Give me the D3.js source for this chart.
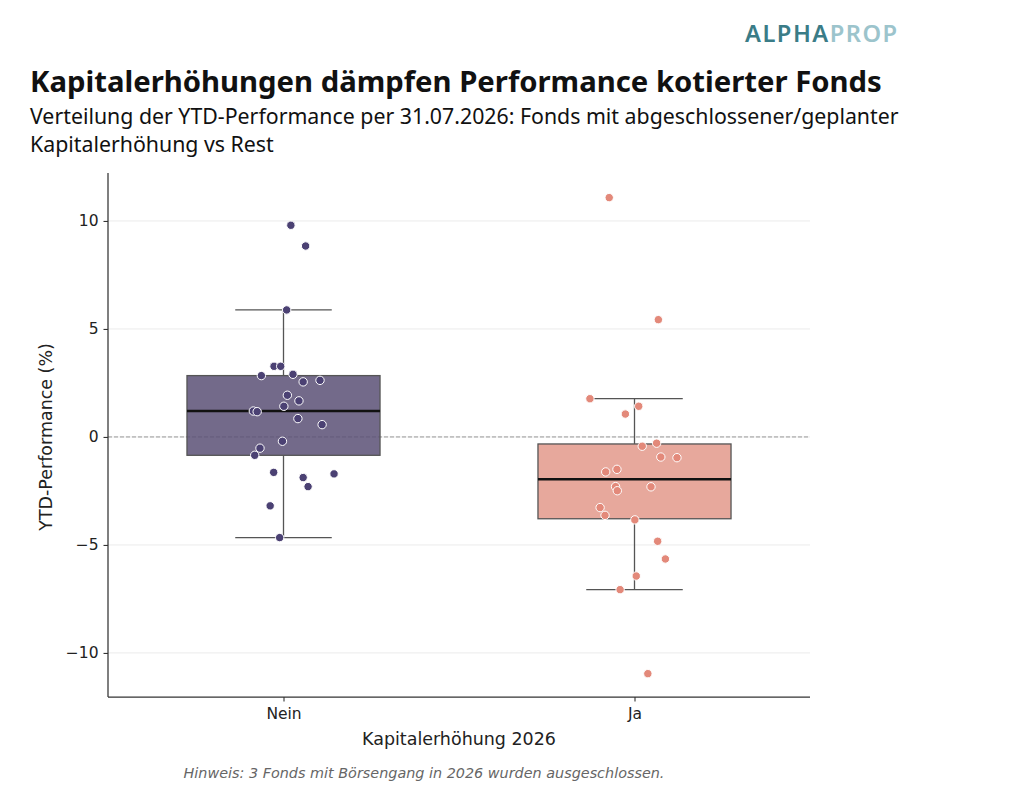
<!DOCTYPE html>
<html>
<head>
<meta charset="utf-8">
<script src="https://cdn.jsdelivr.net/npm/d3@7"></script>
<style>
  body { margin: 0; background: #fff; }
  svg { display: block; }
</style>
</head>
<body>
<div id="chart"></div>
<script>
// categories and values
const categories = ["Nein", "Ja"]

const neinValues = [9.80, 8.84, 5.88, 3.27, 3.27, 2.84, 2.90, 2.55, 2.62, 1.93, 1.67, 1.42, 1.20,
                    1.17, 0.85, 0.57, -0.20, -0.52, -0.85, -1.64, -1.88, -1.71, -2.30, -3.19, -4.66]
// horizontal jitter of each point, in category widths
const neinJitter = [0.021, 0.063, 0.009, -0.027, -0.008, -0.063, 0.027, 0.056, 0.104, 0.011, 0.044, 0.001, -0.086,
                    -0.075, 0.041, 0.110, -0.003, -0.067, -0.082, -0.028, 0.056, 0.144, 0.070, -0.038, -0.011]

const jaValues = [11.08, 5.43, 1.77, 1.42, 1.06, -0.43, -0.29, -0.93, -0.96, -1.62, -1.50, -2.30, -2.49,
                  -2.31, -3.27, -3.63, -3.84, -4.83, -5.65, -6.44, -7.07, -10.96]
const jaJitter = [-0.072, 0.068, -0.127, 0.012, -0.026, 0.022, 0.063, 0.075, 0.121, -0.082, -0.050, -0.054, -0.049,
                  0.047, -0.098, -0.084, 0.001, 0.066, 0.088, 0.005, -0.041, 0.038]

const yTicks = [-10, -5, 0, 5, 10]

const W = 1024, H = 794
const margin = {top: 173, right: 214, bottom: 97, left: 108}

const svg = d3.select("#chart")
  .append("svg")
    .attr("width", W)
    .attr("height", H)

const x = d3.scalePoint()
  .domain(categories)
  .range([margin.left, W - margin.right])
  .padding(0.5)

const y = d3.scaleLinear()
  .domain([-12.04, 12.22])
  .range([H - margin.bottom, margin.top])

const groups = [
  {name: "Nein", values: neinValues, jitter: neinJitter, box: "#5a5076", dot: "#4b4173"},
  {name: "Ja", values: jaValues, jitter: jaJitter, box: "#e3998b", dot: "#e3897a"}
]

//Box statistics (linear quantiles, whiskers at 1.5 IQR)
for (let g of groups) {
  let s = g.values.slice().sort(d3.ascending)
  g.q1 = d3.quantileSorted(s, 0.25)
  g.med = d3.quantileSorted(s, 0.5)
  g.q3 = d3.quantileSorted(s, 0.75)
  let iqr = g.q3 - g.q1
  g.lo = d3.min(s.filter(v => v >= g.q1 - 1.5 * iqr))
  g.hi = d3.max(s.filter(v => v <= g.q3 + 1.5 * iqr))
}

const step = x.step()
const boxW = step * 0.55

//Scale a text's font size so it spans the given width
function fitWidth(sel, target) {
  let size = parseFloat(sel.style("font-size"))
  let len = sel.node().getComputedTextLength()
  sel.style("font-size", (size * target / len).toFixed(2) + "px")
}

// Gridlines
svg.append("g")
  .selectAll("line")
  .data(yTicks)
  .enter().append("line")
    .attr("x1", margin.left)
    .attr("x2", W - margin.right)
    .attr("y1", d => y(d))
    .attr("y2", d => y(d))
    .style("stroke", "#ebebeb")
    .style("stroke-width", 1)

// Zero line
svg.append("line")
  .attr("x1", margin.left)
  .attr("x2", W - margin.right)
  .attr("y1", y(0))
  .attr("y2", y(0))
  .style("stroke", "#999")
  .style("stroke-width", 1)
  .style("stroke-dasharray", "4,2")

// Boxes
const boxes = svg.append("g")
  .selectAll("g")
  .data(groups)
  .enter().append("g")

boxes.append("line")
  .attr("x1", d => x(d.name)).attr("x2", d => x(d.name))
  .attr("y1", d => y(d.hi)).attr("y2", d => y(d.q3))
  .style("stroke", "#555").style("stroke-width", 1.3)
boxes.append("line")
  .attr("x1", d => x(d.name)).attr("x2", d => x(d.name))
  .attr("y1", d => y(d.q1)).attr("y2", d => y(d.lo))
  .style("stroke", "#555").style("stroke-width", 1.3)

for (let k of ["hi", "lo"]) {
  boxes.append("line")
    .attr("x1", d => x(d.name) - boxW / 4).attr("x2", d => x(d.name) + boxW / 4)
    .attr("y1", d => y(d[k])).attr("y2", d => y(d[k]))
    .style("stroke", "#555").style("stroke-width", 1.3)
}

boxes.append("rect")
  .attr("x", d => x(d.name) - boxW / 2)
  .attr("width", boxW)
  .attr("y", d => y(d.q3))
  .attr("height", d => y(d.q1) - y(d.q3))
  .attr("fill", d => d.box)
  .attr("fill-opacity", 0.85)
  .style("stroke", "#555")
  .style("stroke-width", 1.3)

boxes.append("line")
  .attr("x1", d => x(d.name) - boxW / 2).attr("x2", d => x(d.name) + boxW / 2)
  .attr("y1", d => y(d.med)).attr("y2", d => y(d.med))
  .style("stroke", "#111").style("stroke-width", 2.6)

// Points
for (let g of groups) {
  svg.append("g")
    .selectAll("circle")
    .data(g.values.map((v, i) => ({v: v, j: g.jitter[i]})))
    .enter().append("circle")
      .attr("cx", d => x(g.name) + d.j * step)
      .attr("cy", d => y(d.v))
      .attr("r", 4.2)
      .attr("fill", g.dot)
      .style("stroke", "#fff")
      .style("stroke-width", 1)
}

// Axes
const yAxis = svg.append("g")
  .attr("transform", `translate(${margin.left},0)`)
  .call(d3.axisLeft(y).tickValues(yTicks).tickSize(4.5).tickPadding(5)
        .tickFormat(d => d < 0 ? "\u2212" + Math.abs(d) : d))
const xAxis = svg.append("g")
  .attr("transform", `translate(0,${H - margin.bottom})`)
  .call(d3.axisBottom(x).tickSize(4.5).tickPadding(6))

for (let ax of [yAxis, xAxis]) {
  ax.select(".domain").style("stroke", "#333").style("stroke-width", 1.25)
  ax.selectAll(".tick line").style("stroke", "#333").style("stroke-width", 1.1)
  ax.selectAll(".tick text")
    .style("font-family", "DejaVu Sans")
    .style("font-size", "15.5px")
    .style("fill", "#222")
}
// top end of the y spine
yAxis.select(".domain").attr("d", `M0,${margin.top}V${H - margin.bottom}`)
xAxis.select(".domain").attr("d", `M${margin.left},0H${W - margin.right}`)

const xLabel = svg.append("text")
  .attr("x", (margin.left + W - margin.right) / 2)
  .attr("y", 745)
  .attr("text-anchor", "middle")
  .style("font-family", "DejaVu Sans")
  .style("font-size", "15px")
  .style("fill", "#222")
  .text("Kapitalerhöhung 2026")
fitWidth(xLabel, 194)

svg.append("text")
  .attr("transform", `translate(52,${y(0)}) rotate(-90)`)
  .attr("text-anchor", "middle")
  .style("font-family", "DejaVu Sans")
  .style("font-size", xLabel.style("font-size"))
  .style("fill", "#222")
  .text("YTD-Performance (%)")

const note = svg.append("text")
  .attr("x", 424)
  .attr("y", 778)
  .attr("text-anchor", "middle")
  .style("font-family", "DejaVu Sans")
  .style("font-style", "italic")
  .style("font-size", "13px")
  .style("fill", "#666")
  .text("Hinweis: 3 Fonds mit Börsengang in 2026 wurden ausgeschlossen.")
fitWidth(note, 481)

// Titles
const title = svg.append("text")
  .attr("x", 30)
  .attr("y", 92)
  .style("font-family", "Noto Sans")
  .style("font-weight", "bold")
  .style("font-size", "25px")
  .style("fill", "#111")
  .text("Kapitalerhöhungen dämpfen Performance kotierter Fonds")
fitWidth(title, 852)

const subtitle = ["Verteilung der YTD-Performance per 31.07.2026: Fonds mit abgeschlossener/geplanter",
                  "Kapitalerhöhung vs Rest"]
const sub = svg.append("g")
  .selectAll("text")
  .data(subtitle)
  .enter().append("text")
    .attr("x", 30)
    .attr("y", (d, i) => 124 + i * 28)
    .style("font-family", "Noto Sans")
    .style("font-size", "19px")
    .style("fill", "#111")
    .text(d => d)
let subSize = parseFloat(sub.style("font-size")) * 869 / sub.node().getComputedTextLength()
sub.style("font-size", subSize.toFixed(2) + "px")

// Logo
const logo = svg.append("text")
  .attr("x", 745)
  .attr("y", 42)
  .style("font-family", "Noto Sans")
  .style("font-weight", "600")
  .style("font-size", "25px")
  .style("letter-spacing", "1.5px")
logo.append("tspan").attr("fill", "#3a7c87").text("ALPHA")
logo.append("tspan").attr("fill", "#9cc4cc").text("PROP")
fitWidth(logo, 153)
</script>
</body>
</html>
